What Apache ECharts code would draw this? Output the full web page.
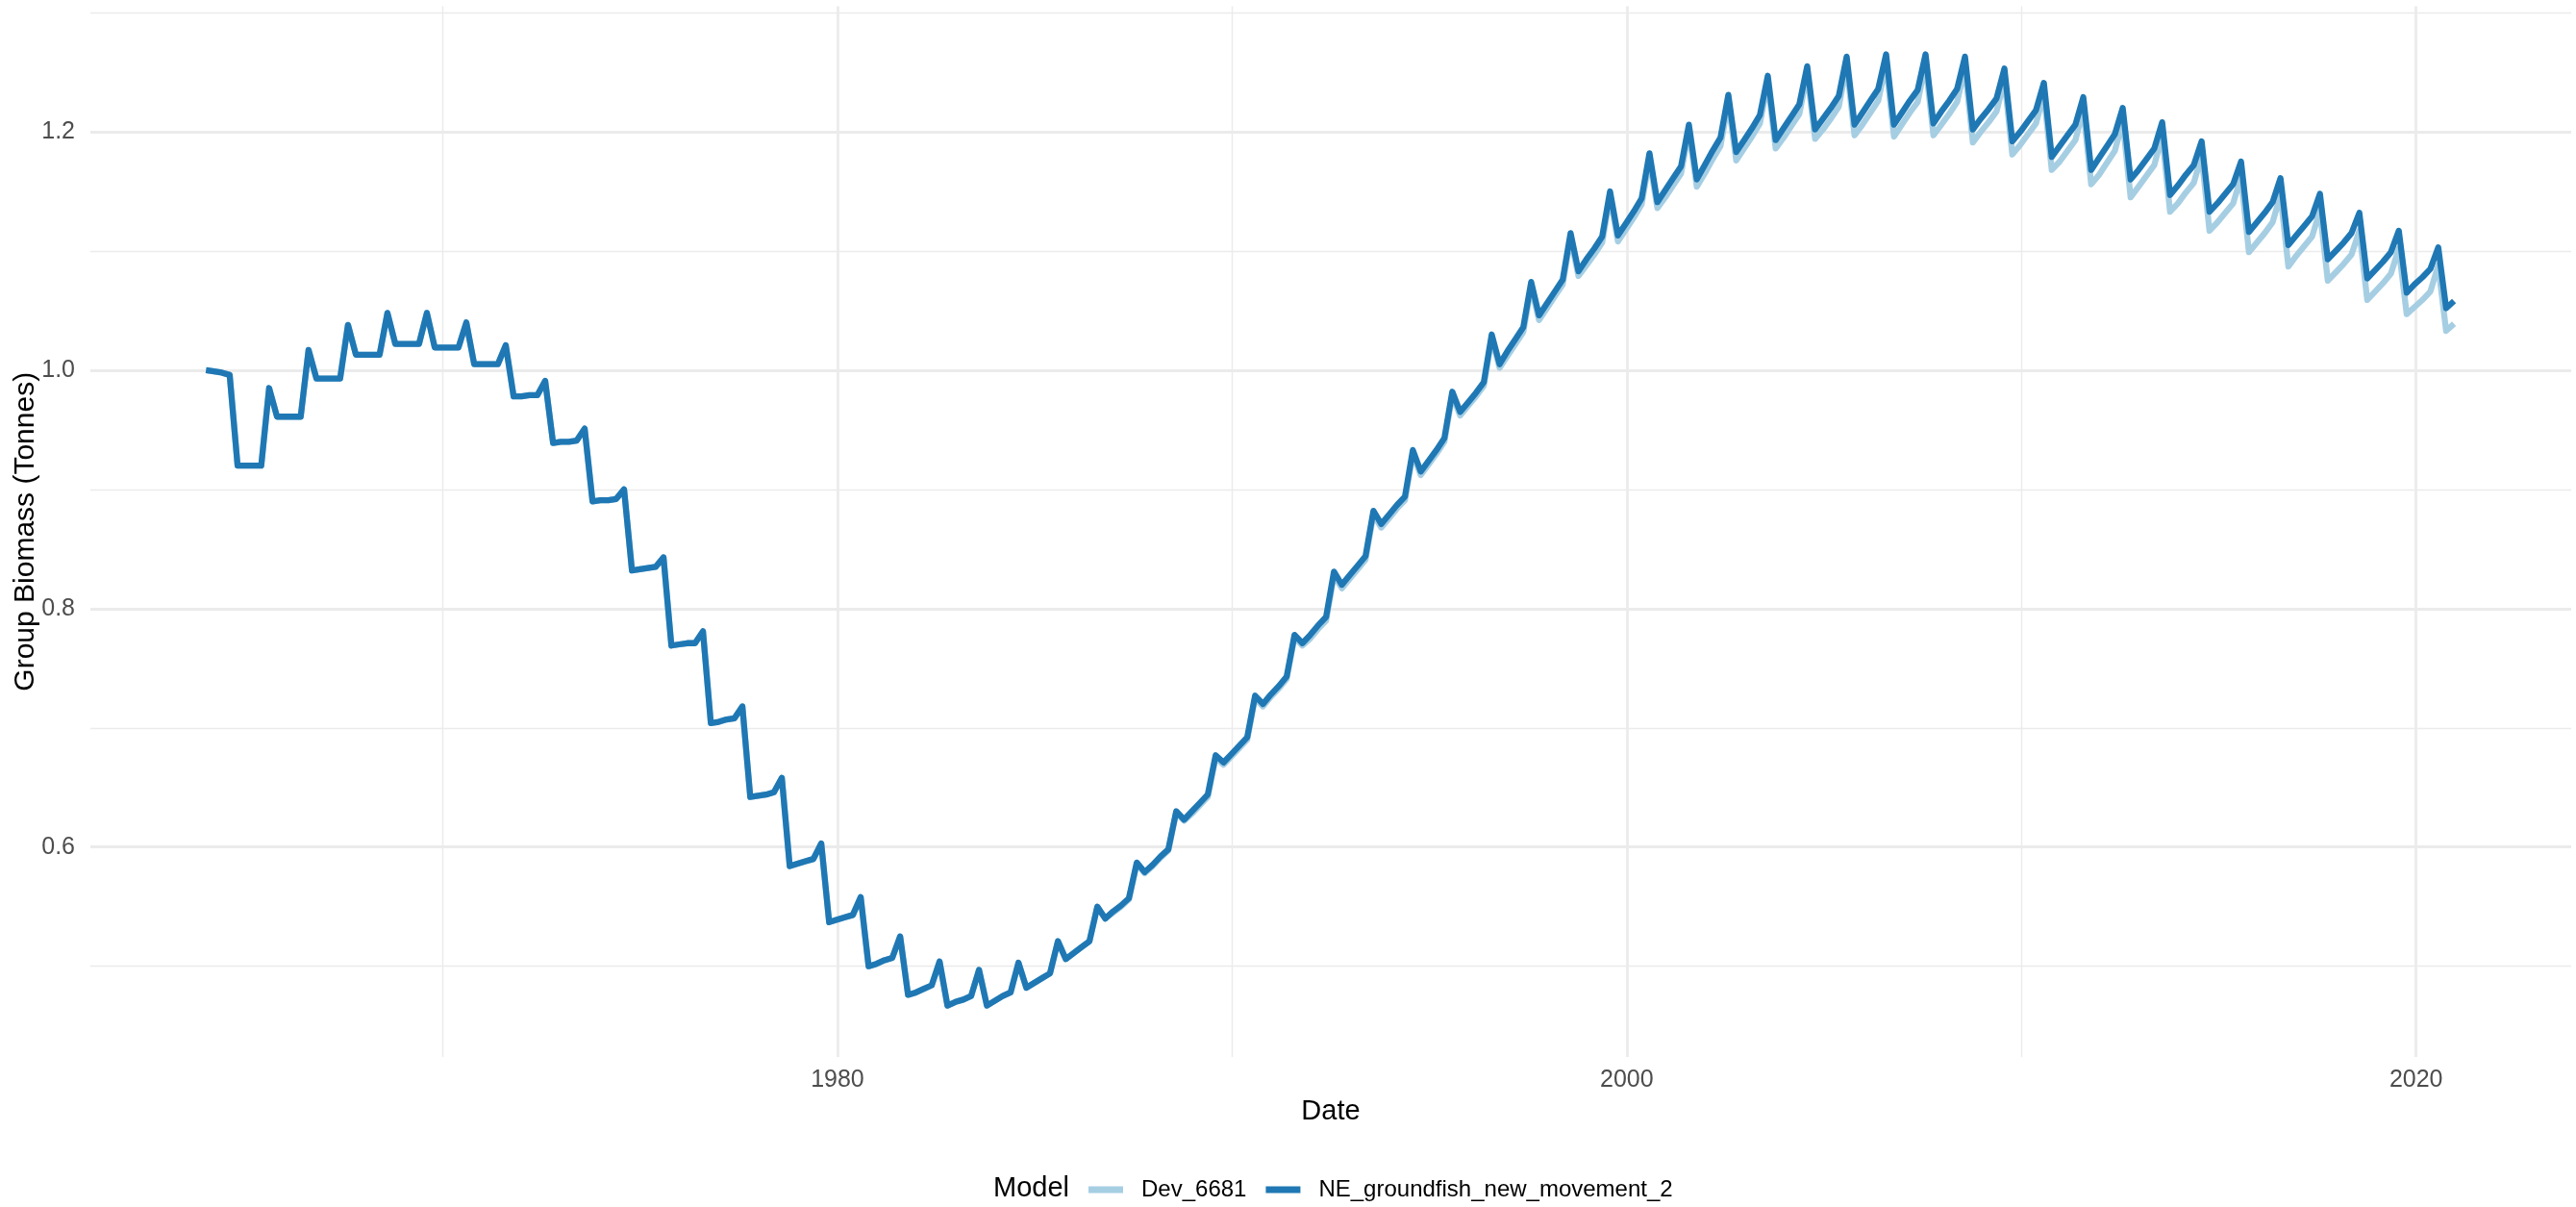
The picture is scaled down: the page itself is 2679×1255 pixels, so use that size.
<!DOCTYPE html>
<html>
<head>
<meta charset="utf-8">
<title>Group Biomass</title>
<script src="https://cdn.jsdelivr.net/npm/echarts@6/dist/echarts.min.js"></script>
<style>
  html, body { margin: 0; padding: 0; background: #fff; }
  #chart { width: 2679px; height: 1255px; }
</style>
</head>
<body>
<div id="chart"></div>
<script>
// model output every 73 days, starting Jan 1964
const startYear = 1964;
const stepYears = 73 / 365.25;

const seriesNames = ['Dev_6681', 'NE_groundfish_new_movement_2'];
const seriesColors = ['#a6cee3', '#1f78b4'];

const xMajorTicks = [1980, 2000, 2020];
const xMinorTicks = [1970, 1990, 2010];
const yMajorTicks = [0.6, 0.8, 1.0, 1.2];
const yMinorTicks = [0.5, 0.7, 0.9, 1.1, 1.3];

// one row per year: .0, .2, .4, .6 (spawn peak), .8
const devBiomass = [
  1.000, 0.999, 0.998, 0.996, 0.920,
  0.920, 0.920, 0.920, 0.985, 0.961,
  0.961, 0.961, 0.961, 1.017, 0.993,
  0.993, 0.993, 0.993, 1.038, 1.013,
  1.013, 1.013, 1.013, 1.048, 1.022,
  1.022, 1.022, 1.022, 1.048, 1.019,
  1.019, 1.019, 1.019, 1.040, 1.005,
  1.005, 1.005, 1.005, 1.021, 0.978,
  0.978, 0.979, 0.979, 0.991, 0.939,
  0.940, 0.940, 0.941, 0.951, 0.890,
  0.891, 0.891, 0.892, 0.900, 0.832,
  0.833, 0.834, 0.835, 0.843, 0.769,
  0.770, 0.771, 0.771, 0.781, 0.704,
  0.705, 0.707, 0.708, 0.718, 0.642,
  0.643, 0.644, 0.646, 0.658, 0.584,
  0.586, 0.588, 0.590, 0.603, 0.537,
  0.539, 0.541, 0.543, 0.558, 0.500,
  0.502, 0.505, 0.507, 0.525, 0.476,
  0.478, 0.481, 0.484, 0.504, 0.467,
  0.470, 0.472, 0.475, 0.497, 0.467,
  0.471, 0.475, 0.478, 0.503, 0.482,
  0.486, 0.490, 0.494, 0.521, 0.506,
  0.511, 0.516, 0.521, 0.550, 0.540,
  0.545, 0.550, 0.556, 0.586, 0.578,
  0.584, 0.591, 0.597, 0.629, 0.622,
  0.628, 0.635, 0.642, 0.675, 0.669,
  0.676, 0.683, 0.690, 0.725, 0.718,
  0.726, 0.733, 0.741, 0.776, 0.769,
  0.775, 0.783, 0.790, 0.828, 0.817,
  0.825, 0.833, 0.841, 0.879, 0.868,
  0.876, 0.884, 0.891, 0.930, 0.912,
  0.921, 0.930, 0.940, 0.979, 0.962,
  0.970, 0.978, 0.987, 1.027, 1.002,
  1.012, 1.022, 1.032, 1.070, 1.042,
  1.052, 1.062, 1.072, 1.111, 1.079,
  1.088, 1.097, 1.107, 1.146, 1.108,
  1.118, 1.128, 1.139, 1.177, 1.136,
  1.145, 1.155, 1.165, 1.201, 1.154,
  1.165, 1.177, 1.188, 1.225, 1.176,
  1.186, 1.196, 1.207, 1.241, 1.186,
  1.195, 1.205, 1.215, 1.249, 1.194,
  1.202, 1.211, 1.221, 1.256, 1.197,
  1.206, 1.216, 1.226, 1.257, 1.196,
  1.206, 1.216, 1.225, 1.257, 1.197,
  1.206, 1.215, 1.225, 1.254, 1.191,
  1.200, 1.208, 1.217, 1.244, 1.181,
  1.189, 1.198, 1.207, 1.232, 1.168,
  1.175, 1.184, 1.193, 1.219, 1.156,
  1.164, 1.174, 1.184, 1.209, 1.145,
  1.154, 1.163, 1.172, 1.197, 1.133,
  1.140, 1.149, 1.157, 1.180, 1.117,
  1.124, 1.132, 1.140, 1.162, 1.099,
  1.107, 1.115, 1.124, 1.147, 1.087,
  1.096, 1.104, 1.112, 1.134, 1.075,
  1.082, 1.089, 1.097, 1.117, 1.059,
  1.066, 1.073, 1.081, 1.102, 1.047,
  1.053, 1.059, 1.066, 1.088, 1.033,
  1.039
];

const neBiomass = [
  1.000, 0.999, 0.998, 0.996, 0.920,
  0.920, 0.920, 0.920, 0.985, 0.961,
  0.961, 0.961, 0.961, 1.017, 0.993,
  0.993, 0.993, 0.993, 1.038, 1.013,
  1.013, 1.013, 1.013, 1.048, 1.022,
  1.022, 1.022, 1.022, 1.048, 1.019,
  1.019, 1.019, 1.019, 1.040, 1.005,
  1.005, 1.005, 1.005, 1.021, 0.978,
  0.978, 0.979, 0.979, 0.991, 0.939,
  0.940, 0.940, 0.941, 0.951, 0.890,
  0.891, 0.891, 0.892, 0.900, 0.832,
  0.833, 0.834, 0.835, 0.843, 0.769,
  0.770, 0.771, 0.771, 0.781, 0.704,
  0.705, 0.707, 0.708, 0.718, 0.642,
  0.643, 0.644, 0.646, 0.658, 0.584,
  0.586, 0.588, 0.590, 0.603, 0.537,
  0.539, 0.541, 0.543, 0.558, 0.500,
  0.502, 0.505, 0.507, 0.525, 0.476,
  0.478, 0.481, 0.484, 0.504, 0.467,
  0.470, 0.472, 0.475, 0.497, 0.467,
  0.471, 0.475, 0.478, 0.503, 0.482,
  0.486, 0.490, 0.494, 0.521, 0.506,
  0.511, 0.516, 0.521, 0.550, 0.540,
  0.546, 0.551, 0.557, 0.587, 0.579,
  0.585, 0.592, 0.598, 0.630, 0.623,
  0.630, 0.637, 0.644, 0.677, 0.671,
  0.678, 0.685, 0.692, 0.727, 0.720,
  0.728, 0.735, 0.743, 0.778, 0.771,
  0.778, 0.786, 0.793, 0.831, 0.820,
  0.828, 0.836, 0.844, 0.882, 0.871,
  0.879, 0.887, 0.894, 0.933, 0.915,
  0.924, 0.933, 0.943, 0.982, 0.965,
  0.973, 0.981, 0.990, 1.030, 1.005,
  1.016, 1.026, 1.036, 1.074, 1.046,
  1.056, 1.066, 1.076, 1.115, 1.083,
  1.093, 1.102, 1.112, 1.150, 1.113,
  1.123, 1.133, 1.144, 1.182, 1.141,
  1.151, 1.161, 1.171, 1.206, 1.160,
  1.172, 1.184, 1.195, 1.231, 1.183,
  1.193, 1.203, 1.214, 1.247, 1.193,
  1.203, 1.213, 1.223, 1.255, 1.202,
  1.211, 1.220, 1.230, 1.263, 1.206,
  1.216, 1.226, 1.236, 1.265, 1.206,
  1.216, 1.226, 1.235, 1.265, 1.207,
  1.217, 1.226, 1.236, 1.263, 1.202,
  1.211, 1.219, 1.228, 1.253, 1.192,
  1.200, 1.209, 1.218, 1.241, 1.179,
  1.188, 1.197, 1.206, 1.229, 1.168,
  1.178, 1.188, 1.198, 1.220, 1.160,
  1.168, 1.177, 1.186, 1.208, 1.147,
  1.155, 1.164, 1.172, 1.192, 1.133,
  1.140, 1.148, 1.156, 1.175, 1.116,
  1.124, 1.132, 1.141, 1.161, 1.105,
  1.113, 1.121, 1.129, 1.148, 1.093,
  1.100, 1.107, 1.115, 1.132, 1.077,
  1.084, 1.091, 1.099, 1.117, 1.065,
  1.072, 1.078, 1.085, 1.103, 1.052,
  1.058
];

const FONT = 'Liberation Sans';
const gridColor = '#ebebeb';

const toPairs = (vals) => vals.map((v, i) => [startYear + i * stepYears, v]);

const xMin = 1961.07, xMax = 2023.93;
const yMin = 0.4239, yMax = 1.3053;

// one axis for the labelled major grid, a second one only for the thin minor grid
const makeAxis = (ticks, isMajor, extra) => Object.assign({
    type: 'value',
    axisLine: { show: false },
    axisTick: { show: false, customValues: ticks },
    axisLabel: { show: isMajor, customValues: ticks },
    splitLine: { show: true, lineStyle: { color: gridColor, width: isMajor ? 2.8 : 1.4 } },
    minorTick: { show: false },
    minorSplitLine: { show: false }
}, extra);

const option = {
    animation: false,
    backgroundColor: '#ffffff',
    textStyle: { fontFamily: FONT },
    grid: { left: 94, right: 5, top: 6.5, bottom: 156, outerBoundsMode: 'none' },
    title: {
        text: 'Model',
        left: 1033,
        top: 1221,
        padding: 0,
        textStyle: { fontFamily: FONT, fontSize: 29, fontWeight: 'normal', color: '#000000' }
    },
    legend: {
        left: 1132,
        top: 1225,
        padding: 0,
        icon: 'rect',
        itemWidth: 36,
        itemHeight: 7,
        itemGap: 20,
        data: seriesNames,
        textStyle: { fontFamily: FONT, fontSize: 24, color: '#000000', padding: [0, 0, 0, 14] }
    },
    xAxis: [
        makeAxis(xMajorTicks, true, {
            min: xMin, max: xMax,
            name: 'Date',
            nameLocation: 'middle',
            nameGap: 42,
            nameMoveOverlap: false,
            nameTextStyle: { fontFamily: FONT, fontSize: 29, color: '#000000' },
            axisLabel: {
                show: true, customValues: xMajorTicks, margin: 12,
                fontFamily: FONT, fontSize: 25, color: '#4d4d4d',
                formatter: (v) => String(Math.round(v))
            }
        }),
        makeAxis(xMinorTicks, false, { min: xMin, max: xMax, position: 'bottom' })
    ],
    yAxis: [
        makeAxis(yMajorTicks, true, {
            min: yMin, max: yMax,
            name: 'Group Biomass (Tonnes)',
            nameLocation: 'middle',
            nameGap: 52,
            nameMoveOverlap: false,
            nameTextStyle: { fontFamily: FONT, fontSize: 30, color: '#000000' },
            axisLabel: {
                show: true, customValues: yMajorTicks, margin: 16,
                fontFamily: FONT, fontSize: 25, color: '#4d4d4d',
                formatter: (v) => v.toFixed(1)
            }
        }),
        makeAxis(yMinorTicks, false, { min: yMin, max: yMax, position: 'left' })
    ],
    series: [
        {
            name: seriesNames[0],
            type: 'line',
            xAxisIndex: 0, yAxisIndex: 0,
            data: toPairs(devBiomass),
            showSymbol: false,
            symbol: 'none',
            color: seriesColors[0],
            lineStyle: { width: 6.3, color: seriesColors[0], join: 'round', cap: 'butt' },
            z: 3
        },
        {
            name: seriesNames[1],
            type: 'line',
            xAxisIndex: 0, yAxisIndex: 0,
            data: toPairs(neBiomass),
            showSymbol: false,
            symbol: 'none',
            color: seriesColors[1],
            lineStyle: { width: 6.3, color: seriesColors[1], join: 'round', cap: 'butt' },
            z: 4
        }
    ]
};

const myChart = echarts.init(document.getElementById('chart'), null, { renderer: 'canvas' });
myChart.setOption(option);
</script>
</body>
</html>
